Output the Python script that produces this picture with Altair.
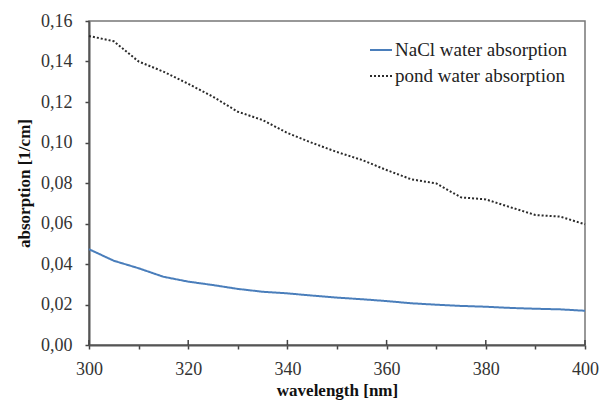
import altair as alt
import pandas as pd

wavelength = [300, 305, 310, 315, 320, 325, 330, 335, 340, 345, 350,
              355, 360, 365, 370, 375, 380, 385, 390, 395, 400]
nacl = [0.0473, 0.0416, 0.0379, 0.0337, 0.0313, 0.0296, 0.0277, 0.0263, 0.0255, 0.0244, 0.0234,
        0.0226, 0.0217, 0.0206, 0.0199, 0.0193, 0.0189, 0.0183, 0.0179, 0.0176, 0.0169]
pond = [0.1526, 0.1500, 0.1400, 0.1350, 0.1290, 0.1226, 0.1152, 0.1111, 0.1047, 0.0998, 0.0953,
        0.0914, 0.0864, 0.0818, 0.0798, 0.0729, 0.0719, 0.0680, 0.0642, 0.0634, 0.0596]
series_names = ["NaCl water absorption", "pond water absorption"]
major_x = [300, 320, 340, 360, 380, 400]
minor_x = list(range(300, 401, 5))
y_ticks = [0.00, 0.02, 0.04, 0.06, 0.08, 0.10, 0.12, 0.14, 0.16]

rows = []
for w, a in zip(wavelength, nacl):
    rows.append({"wavelength": w, "absorption": a, "series": series_names[0]})
for w, a in zip(wavelength, pond):
    rows.append({"wavelength": w, "absorption": a, "series": series_names[1]})
df = pd.DataFrame(rows)
ticks_df = pd.DataFrame({"wavelength": major_x, "lo": [0.0] * len(major_x), "hi": [0.0025] * len(major_x)})

FONT = "Liberation Serif"
W, H = 496, 324

xscale = alt.Scale(domain=[300, 400], nice=False, zero=False)
yscale = alt.Scale(domain=[0, 0.16], nice=False)

legend = alt.Legend(title=None, orient="none", legendX=280, legendY=17,
                    symbolType="stroke", symbolSize=484, symbolStrokeWidth=2,
                    labelFont=FONT, labelFontSize=19, labelColor="#222", labelLimit=400,
                    labelOffset=2, rowPadding=4, padding=0)

lines = alt.Chart(df).mark_line(strokeWidth=2).encode(
    x=alt.X("wavelength:Q", scale=xscale,
            axis=alt.Axis(values=minor_x, title="wavelength [nm]",
                          labelExpr="datum.value % 20 === 0 ? datum.label : ''",
                          tickSize=4, labelPadding=11, titlePadding=4,
                          grid=False, labelFlush=False)),
    y=alt.Y("absorption:Q", scale=yscale,
            axis=alt.Axis(values=y_ticks, title="absorption [1/cm]",
                          labelExpr="replace(format(datum.value, '.2f'), '.', ',')",
                          tickSize=4, labelPadding=13, titlePadding=7, grid=False)),
    color=alt.Color("series:N",
                    scale=alt.Scale(domain=series_names, range=["#4a7ebb", "#2b2b2b"]),
                    legend=legend),
    strokeDash=alt.StrokeDash("series:N",
                              scale=alt.Scale(domain=series_names, range=[[1, 0], [2, 2]]),
                              legend=legend),
)

major = alt.Chart(ticks_df).mark_rule(color="#444", strokeWidth=1.5).encode(
    x=alt.X("wavelength:Q", scale=xscale),
    y=alt.Y("lo:Q", scale=yscale),
    y2="hi:Q",
)

chart = alt.layer(lines, major).properties(
    width=W, height=H,
    background="white",
    autosize=alt.AutoSizeParams(type="none"),
    padding={"left": 81, "top": 13, "right": 15, "bottom": 55},
).configure(
    font=FONT,
    view={"stroke": "#777", "strokeWidth": 1.5},
    axis={"labelFont": FONT, "labelFontSize": 18, "labelColor": "#333",
          "titleFont": FONT, "titleFontSize": 17, "titleFontWeight": "bold", "titleColor": "#111",
          "domainColor": "#555", "domainWidth": 2, "tickColor": "#444", "tickWidth": 1.5},
)

chart.save("out.html", embed_options={"renderer": "svg", "actions": False})
